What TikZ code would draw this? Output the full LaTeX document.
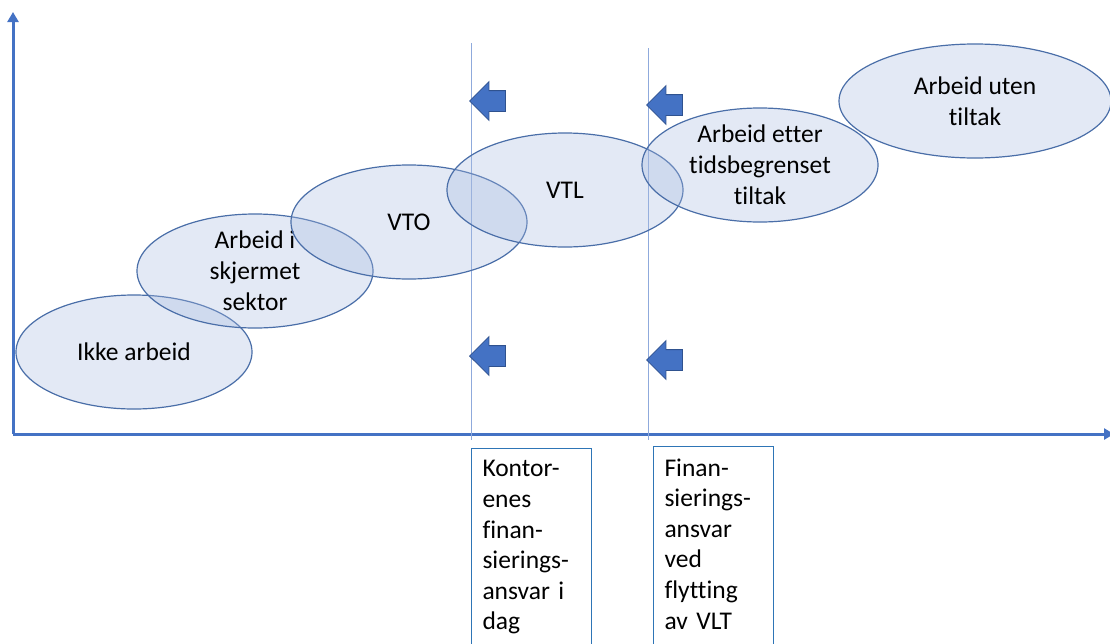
\documentclass[tikz,border=0pt]{standalone}
\usepackage{fontspec}
\setmainfont{Carlito}[Ligatures=CommonOff]
\usetikzlibrary{shapes.geometric, shapes.arrows, arrows.meta}

\definecolor{axisblue}{RGB}{68,114,196}
\definecolor{rimblue}{RGB}{74,110,168}
\definecolor{fillblue}{RGB}{167,186,224}
\definecolor{lineblue}{RGB}{143,170,220}
\definecolor{boxblue}{RGB}{46,117,182}
\definecolor{arrowdark}{RGB}{47,82,143}

\tikzset{
    fase/.style={ellipse, draw=rimblue, line width=1.2pt, fill=fillblue, fill opacity=0.32, text opacity=1,
        inner sep=0pt, minimum width=236pt, minimum height=114pt, align=center, font=\fontsize{25.5}{31}\selectfont},
    pil/.style={single arrow, shape border rotate=180, draw=arrowdark, line width=0.8pt, fill=axisblue,
        inner xsep=0pt, inner ysep=10pt, minimum height=36pt, single arrow head extend=9pt, anchor=tip},
    ansvar/.style={draw=boxblue, line width=1pt, anchor=north west, text width=98pt, inner xsep=11pt,
        inner ysep=12pt, align=left, font=\fontsize{25.5}{30.6}\selectfont, execute at end node=\strut}
}

\begin{document}
\begin{tikzpicture}[x=1pt, y=-1pt]
    \useasboundingbox (0,0) rectangle (1110,643);
    \clip (0,0) rectangle (1110,643);

    % Axes
    \coordinate (origo) at (13,434);
    \coordinate (ytopp) at (13,12);
    \coordinate (xende) at (1114,434);
    \draw[axisblue, line width=3pt, -{Triangle[width=11pt,length=10pt]}] (origo) -- (ytopp);
    \draw[axisblue, line width=3pt, -{Triangle[width=11pt,length=10pt]}] (origo) -- (xende);

    % Thin dividing lines
    \coordinate (skille1top) at (471,43);
    \coordinate (skille1bunn) at (471,440);
    \coordinate (skille2top) at (648,48);
    \coordinate (skille2bunn) at (648,440);
    \draw[lineblue, line width=0.8pt] (skille1top) -- (skille1bunn);
    \draw[lineblue, line width=0.8pt] (skille2top) -- (skille2bunn);

    % Stages
    \node[fase] (ikke) at (134,352) {Ikke arbeid};
    \node[fase] (skjermet) at (255,271) {Arbeid i\\skjermet\\sektor};
    \node[fase] (vto) at (409,222) {VTO};
    \node[fase] (vtl) at (565,190) {VTL};
    \node[fase] (etter) at (760,165) {Arbeid etter\\tidsbegrenset\\tiltak};
    \node[fase, minimum width=272pt] (uten) at (975,101) {Arbeid uten\\tiltak};

    % Arrows
    \node[pil] (pil1) at (469,101) {};
    \node[pil] (pil2) at (646,105) {};
    \node[pil] (pil3) at (469,356) {};
    \node[pil] (pil4) at (646,360) {};

    % Boxes
    \node[ansvar] (kontor) at (471,448) {Kontor-\\enes\\finan-\\sierings-\\ansvar i\\dag};
    \node[ansvar] (flytting) at (653,446) {Finan-\\sierings-\\ansvar\\ved\\flytting\\av VLT};
\end{tikzpicture}
\end{document}
